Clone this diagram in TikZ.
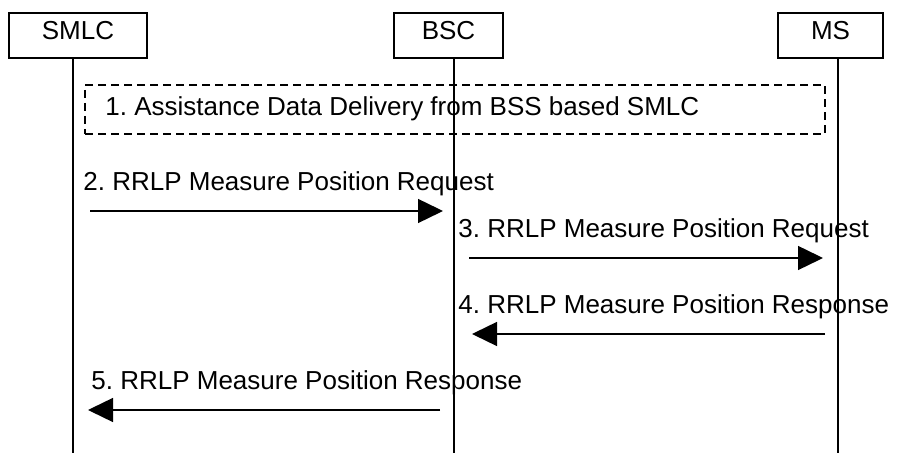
\documentclass[tikz,border=0pt]{standalone}
\usepackage{fontspec}
\setmainfont{Liberation Sans}
\usetikzlibrary{arrows.meta}
\frenchspacing
\tikzset{
  entity/.style={draw,line width=0.6pt,minimum height=22.5pt,inner sep=0pt,text depth=5pt,font=\fontsize{13}{15}\selectfont},
  msg/.style={anchor=base west,inner sep=0pt,font=\fontsize{13}{15}\selectfont},
  lifeline/.style={line width=0.85pt},
  signal/.style={line width=0.7pt,-{Triangle[length=12.5pt,width=12pt]}}
}
\begin{document}
\begin{tikzpicture}[x=0.5pt,y=-0.5pt]
    \useasboundingbox (0,0) rectangle (899,453);
    % entities
    \node[entity,minimum width=69pt] (smlc) at (78,35.5) {SMLC};
    \node[entity,minimum width=54.5pt] (bsc) at (448.5,35.5) {BSC};
    \node[entity,minimum width=52.5pt] (ms) at (830.5,35.5) {MS};
    \foreach \n/\x in {smlc/73,bsc/454,ms/838}{\coordinate (\n-top) at (\x,58); \coordinate (\n-end) at (\x,453); \draw[lifeline] (\n-top) -- (\n-end);}
    % step 1
    \node[draw,line width=1pt,dash pattern=on 4pt off 2.5pt,minimum width=370pt,minimum height=24.5pt,inner sep=0pt] (assist) at (455,109.5) {};
    \node[msg] (assist-text) at (105,116) {1. Assistance Data Delivery from BSS based SMLC};
    % steps 2-5
    \foreach \k/\xa/\xb/\y/\xt/\txt in {2/90/443/211/83/{RRLP Measure Position Request},3/469/823/258/458/{RRLP Measure Position Request},4/825/472/334/458/{RRLP Measure Position Response},5/440/88/410/91/{RRLP Measure Position Response}}{\coordinate (from\k) at (\xa,\y); \coordinate (to\k) at (\xb,\y); \draw[signal] (from\k) -- (to\k); \node[msg] (label\k) at (\xt,\y-20) {\k. \txt};}
\end{tikzpicture}
\end{document}
